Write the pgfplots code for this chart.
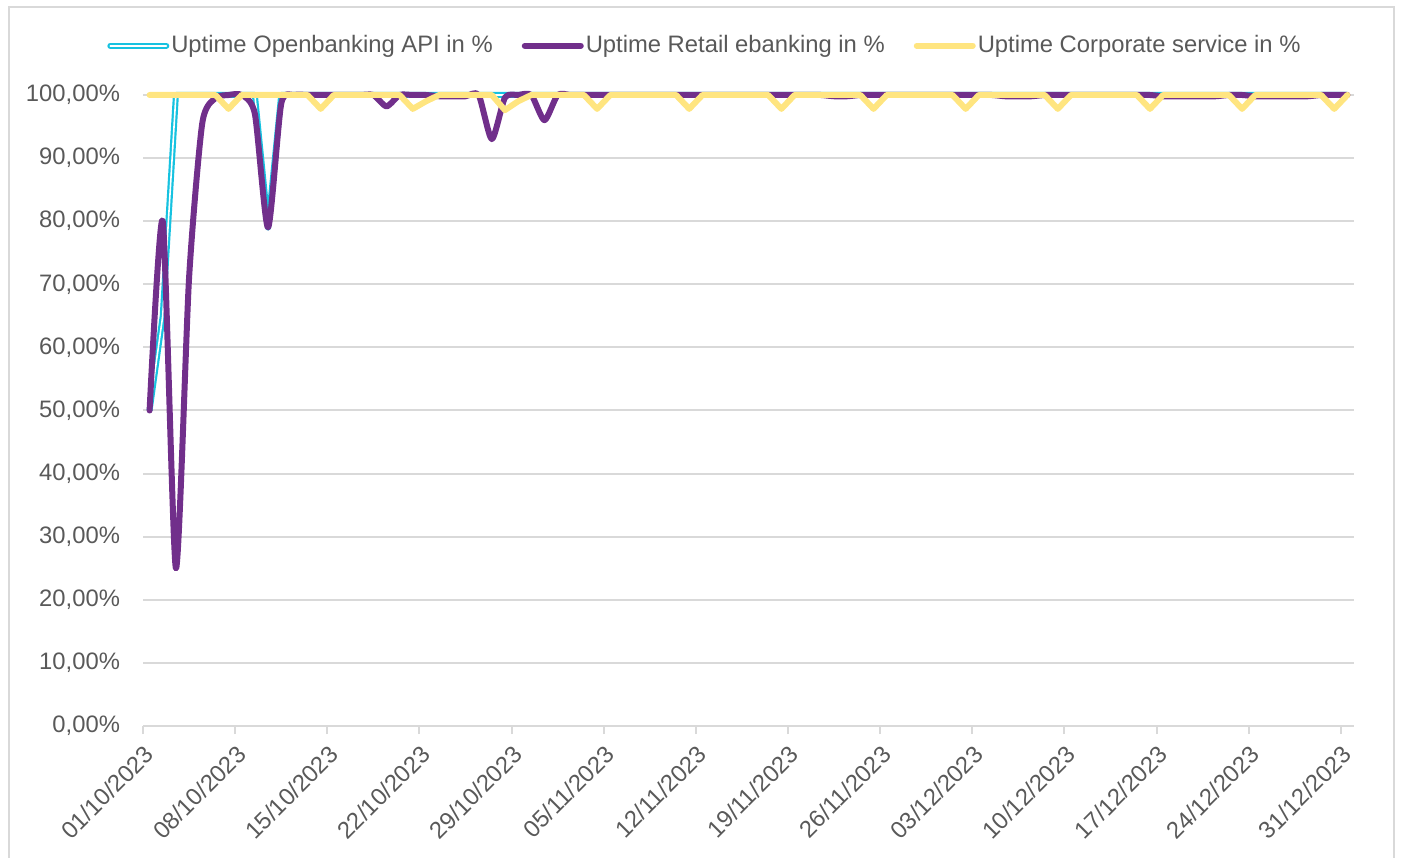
\documentclass[border=0pt]{standalone}
\usepackage{pgfplots}
\pgfplotsset{compat=1.18}
\usepackage{fontspec}
\setmainfont{Liberation Sans}
\definecolor{gridgray}{HTML}{D9D9D9}
\definecolor{textgray}{HTML}{595959}
\definecolor{cyanl}{HTML}{16C2E0}
\definecolor{purpl}{HTML}{712F8B}
\definecolor{yell}{HTML}{FFE580}
\begin{document}
\begin{tikzpicture}
\useasboundingbox (0,0) rectangle (701pt,428.5pt);
\begin{axis}[
  scale only axis,
  width=605.5pt, height=315.5pt,
  at={(71.5pt,65.5pt)}, anchor=south west,
  xmin=-0.5, xmax=91.5, ymin=0, ymax=100,
  clip=false,
  axis line style={draw=none},
  ymajorgrids,
  grid style={gridgray, line width=1pt},
  xtick={-0.5,6.5,...,90.5},
  xticklabels={01/10/2023,08/10/2023,15/10/2023,22/10/2023,29/10/2023,05/11/2023,12/11/2023,19/11/2023,26/11/2023,03/12/2023,10/12/2023,17/12/2023,24/12/2023,31/12/2023},
  ytick={0,10,...,100},
  yticklabels={{0,00\%},{10,00\%},{20,00\%},{30,00\%},{40,00\%},{50,00\%},{60,00\%},{70,00\%},{80,00\%},{90,00\%},{100,00\%}},
  xtick pos=bottom,
  tick align=outside,
  major tick length=4pt,
  xtick style={draw=gridgray, line width=1pt},
  ytick style={draw=none},
  tick label style={font=\fontsize{11.9}{14}\selectfont, text=textgray},
  yticklabel style={xshift=-4pt},
  xticklabel style={rotate=45, anchor=east, yshift=-8pt},
  legend columns=-1,
  legend style={at={(axis description cs:0.464,1.078)}, anchor=center, draw=none, fill=none,
    font=\fontsize{11.9}{14}\selectfont, text=textgray,
    nodes={inner xsep=1pt},
    /tikz/every even column/.append style={column sep=13.5pt}},
  legend image code/.code={\draw[#1, line cap=round] (0pt,0pt) -- (28pt,0pt);},
]
\addplot[cyanl, line width=1.1pt, double=white, double distance=0.8pt, line join=round] coordinates {
(0,50) (1,65) (2,100) (3,100) (4,100) (5,100) (6,100) (7,100) (8,100) (9,79) (10,100)
(11,100) (12,100) (13,100) (14,100) (15,100) (16,100) (17,100) (18,100) (19,100) (20,100)
(21,100) (22,100) (23,100) (24,100) (25,100) (26,100) (27,100) (28,100) (29,100) (30,100)
(31,100) (32,100) (33,100) (34,100) (35,100) (36,100) (37,100) (38,100) (39,100) (40,100)
(41,100) (42,100) (43,100) (44,100) (45,100) (46,100) (47,100) (48,100) (49,100) (50,100)
(51,100) (52,100) (53,100) (54,100) (55,100) (56,100) (57,100) (58,100) (59,100) (60,100)
(61,100) (62,100) (63,100) (64,100) (65,100) (66,100) (67,100) (68,100) (69,100) (70,100)
(71,100) (72,100) (73,100) (74,100) (75,100) (76,100) (77,100) (78,100) (79,100) (80,100)
(81,100) (82,100) (83,100) (84,100) (85,100) (86,100) (87,100) (88,100) (89,100) (90,100)
(91,100)
};
\addlegendentry{Uptime Openbanking API in \%}
\addplot[purpl, line width=3pt, smooth, tension=0.4, line cap=round, line join=round] coordinates {
(0,50) (1,80) (2,25) (3,71) (4,95.5) (5,99.5) (6,100) (7,100) (8,97) (9,79) (10,98.6)
(11,100) (12,100) (13,100) (14,100) (15,100) (16,100) (17,100) (18,98.2) (19,100) (20,100)
(21,100) (22,99.8) (23,99.8) (24,99.8) (25,100) (26,93) (27,99.6) (28,100) (29,100) (30,96)
(31,100) (32,100) (33,100) (34,100) (35,100) (36,100) (37,100) (38,100) (39,100) (40,100)
(41,100) (42,100) (43,100) (44,100) (45,100) (46,100) (47,100) (48,100) (49,100) (50,100)
(51,100) (52,99.8) (53,99.8) (54,100) (55,100) (56,100) (57,100) (58,100) (59,100) (60,100)
(61,100) (62,100) (63,100) (64,100) (65,99.8) (66,99.8) (67,99.8) (68,100) (69,100) (70,100)
(71,100) (72,100) (73,100) (74,100) (75,100) (76,100) (77,99.8) (78,99.8) (79,99.8) (80,99.8)
(81,99.8) (82,100) (83,100) (84,99.8) (85,99.8) (86,99.8) (87,99.8) (88,99.8) (89,100) (90,100)
(91,100)
};
\addlegendentry{Uptime Retail ebanking in \%}
\addplot[yell, line width=3pt, line cap=round, line join=round] coordinates {
(0,100) (1,100) (2,100) (3,100) (4,100) (5,100) (6,97.8) (7,100) (8,100) (9,100) (10,100)
(11,100) (12,100) (13,97.8) (14,100) (15,100) (16,100) (17,100) (18,100) (19,100) (20,97.8)
(21,99) (22,100) (23,100) (24,100) (25,100) (26,100) (27,97.6) (28,99) (29,100) (30,100)
(31,100) (32,100) (33,100) (34,97.8) (35,100) (36,100) (37,100) (38,100) (39,100) (40,100)
(41,97.8) (42,100) (43,100) (44,100) (45,100) (46,100) (47,100) (48,97.8) (49,100) (50,100)
(51,100) (52,100) (53,100) (54,100) (55,97.8) (56,100) (57,100) (58,100) (59,100) (60,100)
(61,100) (62,97.8) (63,100) (64,100) (65,100) (66,100) (67,100) (68,100) (69,97.8) (70,100)
(71,100) (72,100) (73,100) (74,100) (75,100) (76,97.8) (77,100) (78,100) (79,100) (80,100)
(81,100) (82,100) (83,97.8) (84,100) (85,100) (86,100) (87,100) (88,100) (89,100) (90,97.8)
(91,100)
};
\addlegendentry{Uptime Corporate service in \%}
\end{axis}
\draw[gridgray, line width=1pt] (4.5pt,-2pt) -- (4.5pt,425pt) -- (697pt,425pt) -- (697pt,-2pt);
\end{tikzpicture}
\end{document}
